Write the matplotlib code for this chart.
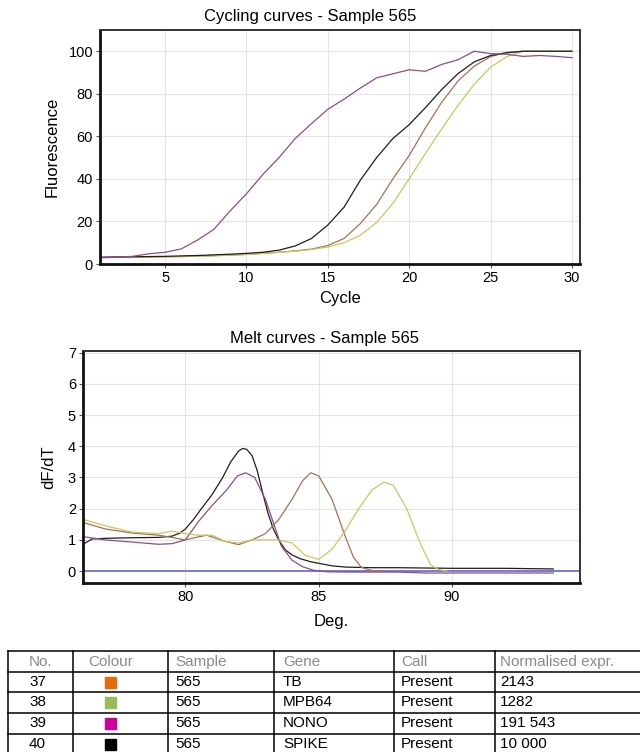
import matplotlib
matplotlib.use("Agg")
import matplotlib.pyplot as plt

plt.rcParams['font.family'] = ['Liberation Sans', 'DejaVu Sans']

# ---------------- data ----------------
cycles = list(range(1, 31))
nono_fluor = [3.0, 3.2, 3.6, 4.8, 5.5, 7.1, 11.3, 16.3, 25, 33, 42, 50, 59, 66, 72.7,
              77.5, 82.7, 87.5, 89.4, 91.3, 90.6, 93.8, 96, 100, 98.9, 98.6, 97.6, 98, 97.6, 97]
spike_fluor = [3.2, 3.3, 3.4, 3.5, 3.6, 3.8, 4.0, 4.3, 4.6, 5.0, 5.5, 6.5, 8.5, 12, 18.3,
               26.7, 39.4, 50, 59, 65.5, 73.5, 82, 89.5, 95, 98, 99.3, 100, 100, 100, 100]
tb_fluor = [3.0, 3.1, 3.2, 3.3, 3.4, 3.5, 3.7, 3.9, 4.2, 4.5, 5.0, 5.5, 6.2, 7.0, 8.7,
            12, 19, 28, 40, 51, 64, 76, 86, 93, 97.5, 99.5, 100, 100, 100, 100]
mpb64_fluor = [3.0, 3.1, 3.2, 3.3, 3.4, 3.5, 3.7, 3.9, 4.2, 4.5, 5.0, 5.5, 6.0, 6.8, 8.0,
               10, 13.5, 19.5, 28.5, 40, 52, 63.5, 74.5, 84.5, 92.5, 97.5, 100, 100, 100, 100]

spike_temp = [76.2, 76.5, 77, 78, 79, 79.5, 79.8, 80, 80.3, 80.6, 81, 81.4, 81.7, 82, 82.15,
              82.3, 82.5, 82.7, 82.9, 83.1, 83.3, 83.5, 83.75, 84, 84.3, 84.7, 85, 85.5, 86,
              87, 88, 89, 90, 92, 93.8]
spike_dfdt = [0.88, 1.03, 1.05, 1.07, 1.08, 1.12, 1.22, 1.35, 1.65, 2.0, 2.45, 3.0, 3.5, 3.85,
              3.93, 3.9, 3.7, 3.2, 2.5, 1.85, 1.35, 1.0, 0.68, 0.52, 0.4, 0.3, 0.25, 0.17, 0.13,
              0.11, 0.11, 0.1, 0.09, 0.09, 0.07]
nono_temp = [76.2, 77, 78, 79, 79.5, 80, 80.5, 81, 81.55, 81.95, 82.26, 82.6, 83, 83.3, 83.6,
             84, 84.4, 84.8, 85.3, 86, 88, 89, 90, 92, 93.8]
nono_dfdt = [1.1, 1.0, 0.93, 0.86, 0.88, 1.0, 1.6, 2.1, 2.6, 3.05, 3.15, 3.0, 2.3, 1.55, 0.8,
             0.35, 0.14, 0.03, -0.02, -0.03, -0.03, -0.06, -0.06, -0.06, -0.06]
tb_temp = [76.2, 77, 78, 79, 79.5, 80, 80.5, 80.8, 81.5, 82, 82.5, 83, 83.5, 84, 84.4, 84.7,
           85, 85.5, 86, 86.3, 86.6, 87, 87.5]
tb_dfdt = [1.55, 1.35, 1.22, 1.15, 1.08, 1.0, 1.1, 1.15, 0.95, 0.85, 1.0, 1.2, 1.65, 2.3,
           2.9, 3.15, 3.05, 2.3, 1.1, 0.45, 0.12, 0.02, 0.0]
mpb64_temp = [76.2, 77, 78, 79, 79.5, 80, 80.5, 81, 81.5, 82, 82.5, 83, 83.5, 84, 84.5, 85,
              85.5, 86, 86.5, 87, 87.44, 87.8, 88.3, 88.8, 89.2, 89.5, 89.8]
mpb64_dfdt = [1.65, 1.45, 1.25, 1.2, 1.28, 1.2, 1.15, 1.15, 0.95, 0.9, 1.0, 1.0, 1.0, 0.9,
              0.5, 0.38, 0.7, 1.3, 2.0, 2.6, 2.85, 2.75, 2.0, 0.9, 0.2, 0.05, 0.0]

table_headers = ["No.", "Colour", "Sample", "Gene", "Call", "Normalised expr."]
table_no = ["37", "38", "39", "40"]
table_colours = ["#e36c0a", "#9bbb59", "#cc0099", "#000000"]
table_sample = ["565", "565", "565", "565"]
table_gene = ["TB", "MPB64", "NONO", "SPIKE"]
table_call = ["Present", "Present", "Present", "Present"]
table_expr = ["2143", "1282", "191 543", "10 000"]

# ---------------- styles ----------------
c_nono = "#8b4f86"
c_spike = "#1e1e1e"
c_tb = "#a8705a"
c_mpb = "#c9c85a"
W, H = 640, 752

fig = plt.figure(figsize=(W / 100, H / 100), dpi=100)

def style_axes(ax):
    ax.grid(True, color="#e4e4e4", lw=0.8)
    ax.set_axisbelow(True)
    for s in ["left", "bottom"]:
        ax.spines[s].set_linewidth(2.0)
        ax.spines[s].set_color("#111111")
    for s in ["top", "right"]:
        ax.spines[s].set_linewidth(1.4)
        ax.spines[s].set_color("#333333")
    ax.tick_params(axis="both", labelsize=10.5, length=3, width=0.8, color="#555555", pad=2)

def px_axes(l, t, r, b):
    return fig.add_axes([l / W, 1 - b / H, (r - l) / W, (b - t) / H])

# ---- cycling curves ----
ax1 = px_axes(100, 30, 580, 264)
ax1.plot(cycles, tb_fluor, color=c_tb, lw=0.9)
ax1.plot(cycles, mpb64_fluor, color=c_mpb, lw=0.9)
ax1.plot(cycles, spike_fluor, color=c_spike, lw=0.9)
ax1.plot(cycles, nono_fluor, color=c_nono, lw=0.9)
ax1.set_xlim(1, 30.5)
ax1.set_ylim(0, 110)
ax1.set_xticks([5, 10, 15, 20, 25, 30])
ax1.set_yticks([0, 20, 40, 60, 80, 100])
style_axes(ax1)
fig.text(310 / W, 1 - 17 / H, "Cycling curves - Sample 565", fontsize=12,
         ha="center", va="center")
ax1.set_xlabel("Cycle", fontsize=12, labelpad=4)
ax1.set_ylabel("Fluorescence", fontsize=12, labelpad=6)

# ---- melt curves ----
ax2 = px_axes(83, 351, 580, 583)
ax2.axhline(0, color="#7b7bd0", lw=1.4, zorder=1)
ax2.plot(spike_temp, spike_dfdt, color=c_spike, lw=0.9)
ax2.plot(nono_temp, nono_dfdt, color=c_nono, lw=0.9)
ax2.plot(tb_temp, tb_dfdt, color=c_tb, lw=0.9)
ax2.plot(mpb64_temp, mpb64_dfdt, color=c_mpb, lw=0.9)
ax2.set_xlim(76.16, 94.8)
ax2.set_ylim(-0.38, 7.05)
ax2.set_xticks([80, 85, 90])
ax2.set_yticks(range(0, 8))
style_axes(ax2)
fig.text(324 / W, 1 - 338 / H, "Melt curves - Sample 565", fontsize=12,
         ha="center", va="center")
ax2.set_xlabel("Deg.", fontsize=12, labelpad=7)
ax2.set_ylabel("dF/dT", fontsize=12, labelpad=8)

# ---- table ----
tax = fig.add_axes([0, 0, 1, 1])
tax.set_xlim(0, W)
tax.set_ylim(H, 0)
tax.axis("off")
col_edges = [8, 73, 168, 274, 394, 495]
row_edges = [651, 672, 692, 713, 734]
for y in row_edges:
    tax.plot([col_edges[0], W + 5], [y, y], color="black", lw=1.1, clip_on=False)
for x in col_edges:
    tax.plot([x, x], [row_edges[0], H + 5], color="black", lw=1.1, clip_on=False)
text_x = [29, 88, 175, 283, 401, 500]
for j, h in enumerate(table_headers):
    tax.text(text_x[j], row_edges[0] + 11, h, color="#8a8a8a",
             fontsize=11, va="center", ha="left")
cols = [table_no, None, table_sample, table_gene, table_call, table_expr]
for i in range(len(table_no)):
    yc = row_edges[i + 1] + 10
    for j, col in enumerate(cols):
        if col is None:
            tax.add_patch(plt.Rectangle((104.5, yc - 5), 11, 11, color=table_colours[i]))
        else:
            tax.text(text_x[j], yc, col[i], color="black", fontsize=11, va="center", ha="left")

fig.savefig("out.png", dpi=100)
